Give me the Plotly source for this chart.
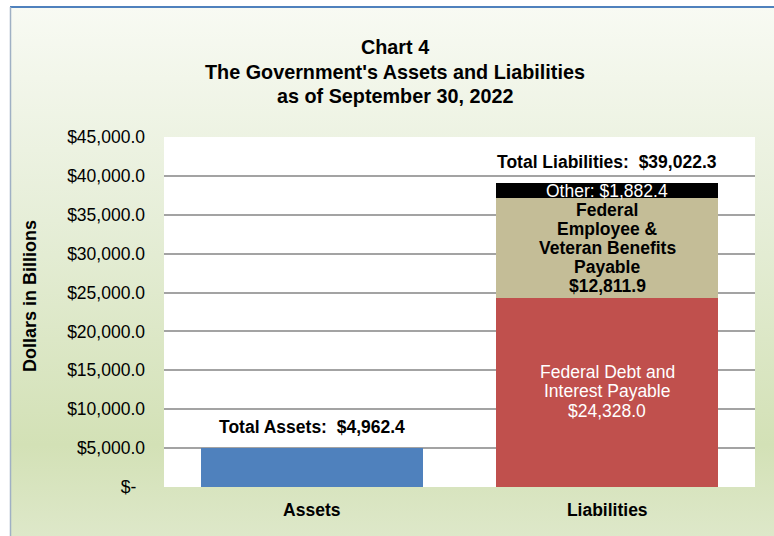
import base64
import plotly.graph_objects as go

# ---- data ----
categories = ["Assets", "Liabilities"]
assets_value = 4962.4
debt_value = 24328.0
benefits_value = 12811.9
other_value = 1882.4
total_liabilities = 39022.3
tick_values = [0, 5000, 10000, 15000, 20000, 25000, 30000, 35000, 40000, 45000]
tick_labels = ["$-\u2002", "$5,000.0", "$10,000.0", "$15,000.0", "$20,000.0",
               "$25,000.0", "$30,000.0", "$35,000.0", "$40,000.0", "$45,000.0"]
title_lines = ["Chart 4", "The Government's Assets and Liabilities", "as of September 30, 2022"]
y_title = "Dollars in Billions"
debt_label_lines = ["Federal Debt and", "Interest Payable", "$24,328.0"]
benefit_label_lines = ["Federal", "Employee &", "Veteran Benefits", "Payable", "$12,811.9"]
other_label = "Other: $1,882.4"
assets_label = "Total Assets:\u00a0 $4,962.4"
liab_label = "Total Liabilities:\u00a0 $39,022.3"

# ---- layout geometry (body margin removed via post_script) ----
OFF = 0
W, H = 774, 536
L, R, T, B = 164, 19, 137, 49
PW, PH = W - L - R, H - T - B
FONT = "Liberation Sans, Arial, sans-serif"


def px2x(px):  # page pixel -> paper x
    return (px - OFF - L) / PW


def py2y(py):  # page pixel -> paper y
    return (H - B - (py - OFF)) / PH


fig = go.Figure()
fig.add_trace(go.Bar(x=[categories[0]], y=[assets_value], marker=dict(color="#4f81bd", line=dict(width=0)),
                     hoverinfo="skip"))
fig.add_trace(go.Bar(x=[categories[1]], y=[debt_value], marker=dict(color="#c0504d", line=dict(width=0)),
                     hoverinfo="skip"))
fig.add_trace(go.Bar(x=[categories[1]], y=[benefits_value], marker=dict(color="#c4bd97", line=dict(width=0)),
                     hoverinfo="skip"))
fig.add_trace(go.Bar(x=[categories[1]], y=[other_value], marker=dict(color="#000000", line=dict(width=0)),
                     hoverinfo="skip"))

annotations = []
# title
title_ys = [47, 72, 96]
for line, py in zip(title_lines, title_ys):
    annotations.append(dict(text=f"<b>{line}</b>", xref="paper", yref="paper", x=px2x(395), y=py2y(py),
                            xanchor="center", yanchor="middle", showarrow=False,
                            font=dict(family=FONT, size=19.8, color="#000000")))
# y axis title
annotations.append(dict(text=f"<b>{y_title}</b>", xref="paper", yref="paper", x=px2x(30), y=py2y(296),
                        xanchor="center", yanchor="middle", textangle=-90, showarrow=False,
                        font=dict(family=FONT, size=18, color="#000000")))
# totals
annotations.append(dict(text=f"<b>{assets_label}</b>", x=categories[0], y=assets_value, xref="x", yref="y",
                        yanchor="bottom", yshift=9, showarrow=False,
                        font=dict(family=FONT, size=17.5, color="#000000")))
annotations.append(dict(text=f"<b>{liab_label}</b>", x=categories[1], y=total_liabilities, xref="x", yref="y",
                        yanchor="bottom", yshift=9, showarrow=False,
                        font=dict(family=FONT, size=17.5, color="#000000")))
# debt segment label
debt_mid = debt_value / 2
n = len(debt_label_lines)
for i, line in enumerate(debt_label_lines):
    annotations.append(dict(text=line, x=categories[1], y=debt_mid, xref="x", yref="y",
                            yanchor="middle", yshift=-(i - (n - 1) / 2) * 19.5 + 1, showarrow=False,
                            font=dict(family=FONT, size=17.5, color="#ffffff")))
# benefits segment label
ben_mid = debt_value + benefits_value / 2
n = len(benefit_label_lines)
for i, line in enumerate(benefit_label_lines):
    annotations.append(dict(text=f"<b>{line}</b>", x=categories[1], y=ben_mid, xref="x", yref="y",
                            yanchor="middle", yshift=-(i - (n - 1) / 2) * 19.2, showarrow=False,
                            font=dict(family=FONT, size=17.5, color="#000000")))
# other segment label
oth_mid = debt_value + benefits_value + other_value / 2
annotations.append(dict(text=other_label, x=categories[1], y=oth_mid, xref="x", yref="y",
                        yanchor="middle", showarrow=False,
                        font=dict(family=FONT, size=17.5, color="#ffffff")))

# gradient background image
svg = ('<svg xmlns="http://www.w3.org/2000/svg" width="100" height="100" viewBox="0 0 100 100" '
       'preserveAspectRatio="none"><defs><linearGradient id="g" x1="0" y1="0" x2="0" y2="1">'
       '<stop offset="0" stop-color="#f8faf3"/><stop offset="0.4" stop-color="#e6eed8"/>'
       '<stop offset="0.82" stop-color="#d3e1b6"/><stop offset="1" stop-color="#dee8ca"/>'
       '</linearGradient></defs><rect x="0" y="0" width="100" height="100" fill="url(#g)"/></svg>')
src = "data:image/svg+xml;base64," + base64.b64encode(svg.encode()).decode()

fig.add_layout_image(dict(source=src, xref="paper", yref="paper", x=px2x(10), y=py2y(7),
                          sizex=px2x(W + 5) - px2x(10), sizey=py2y(7) - py2y(H + 5),
                          xanchor="left", yanchor="top", sizing="stretch", layer="below"))

shapes = [
    dict(type="rect", xref="paper", yref="paper", x0=0, x1=1, y0=0, y1=1,
         fillcolor="#ffffff", line=dict(width=0), layer="below"),
    dict(type="line", xref="paper", yref="paper", x0=px2x(10), x1=px2x(W + 5), y0=py2y(7), y1=py2y(7),
         line=dict(color="#4f81bd", width=2), layer="above"),
    dict(type="line", xref="paper", yref="paper", x0=px2x(10.5), x1=px2x(10.5), y0=py2y(7), y1=py2y(H + 5),
         line=dict(color="#9fb0c4", width=1.5), layer="above"),
]

fig.update_layout(
    width=W, height=H,
    margin=dict(l=L, r=R, t=T, b=B, pad=0),
    paper_bgcolor="#ffffff",
    plot_bgcolor="rgba(0,0,0,0)",
    barmode="stack",
    bargap=0.25,
    showlegend=False,
    annotations=annotations,
    shapes=shapes,
    font=dict(family=FONT, size=17.5, color="#000000"),
)
fig.update_xaxes(categoryorder="array", categoryarray=categories, showgrid=False, showline=False,
                 ticks="", tickfont=dict(family=FONT, size=17.5, color="#000000"),
                 tickvals=categories, ticktext=[f"<b>{c}</b>" for c in categories],
                 ticklabelstandoff=10)
fig.update_yaxes(range=[0, 45000], tickvals=tick_values, ticktext=tick_labels,
                 showgrid=True, gridcolor="#a3a3a3", gridwidth=1.5, zeroline=False, showline=False,
                 ticks="", tickfont=dict(family=FONT, size=17.5, color="#000000"),
                 ticklabelstandoff=18)

fig.write_html("out.html", config={"displayModeBar": False},
               post_script="document.body.style.margin='0px';document.body.style.overflow='hidden';")
